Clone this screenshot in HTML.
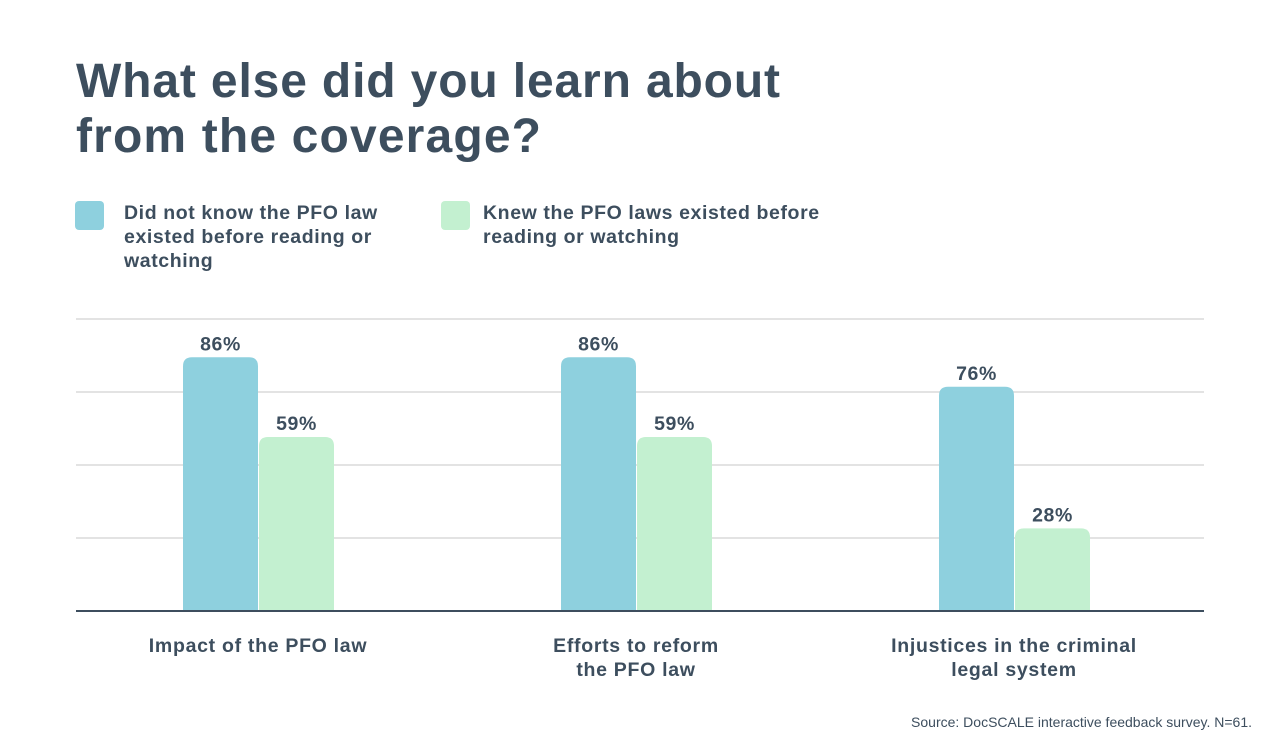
<!DOCTYPE html>
<html><head><meta charset="utf-8"><style>
body{margin:0;background:#fff;}
svg{display:block;font-family:"Liberation Sans",sans-serif;}
</style></head><body>
<svg width="1280" height="751" viewBox="0 0 1280 751">
<g fill="#3d4e5e" font-weight="bold">
<text x="76" y="97" font-size="48" textLength="704" lengthAdjust="spacing">What else did you learn about</text>
<text x="76" y="152" font-size="48" textLength="465" lengthAdjust="spacing">from the coverage?</text>
</g>
<g>
<rect x="75" y="201" width="29" height="29" rx="4" fill="#8ed0de"/>
<g font-size="19.5" font-weight="bold" fill="#3d4e5e" letter-spacing="0.6">
<text x="124" y="219">Did not know the PFO law</text>
<text x="124" y="243">existed before reading or</text>
<text x="124" y="267">watching</text>
</g>
<rect x="441" y="201" width="29" height="29" rx="4" fill="#c3f0d0"/>
<g font-size="19.5" font-weight="bold" fill="#3d4e5e" letter-spacing="0.6">
<text x="483" y="219">Knew the PFO laws existed before</text>
<text x="483" y="243">reading or watching</text>
</g>
</g>
<g id="grid"></g>
<g id="bars"></g>
<g id="labels"></g>
<line x1="76" x2="1204" y1="611" y2="611" stroke="#3d4e5e" stroke-width="2"/>
<text x="1252" y="727" text-anchor="end" font-size="14" fill="#3d4e5e">Source: DocSCALE interactive feedback survey. N=61.</text>
</svg>
<script>
const categories=[["Impact of the PFO law"],["Efforts to reform","the PFO law"],["Injustices in the criminal","legal system"]];
const didNotKnow=[86,86,76];
const knew=[59,59,28];
const gridTicks=[25,50,75,100];
const NS="http://www.w3.org/2000/svg";
const y0=611, yTop=316;
const y=v=>y0-(v/100)*(y0-yTop);
const gy=t=>y0-(t/100)*292;
const cx=i=>258+i*378;
const bw=75;
function mk(tag,attrs,parent){const e=document.createElementNS(NS,tag);for(const k in attrs)e.setAttribute(k,attrs[k]);parent.appendChild(e);return e;}
const grid=document.getElementById('grid'),bars=document.getElementById('bars'),labels=document.getElementById('labels');
gridTicks.forEach(t=>{const l=mk('line',{x1:76,x2:1204,y1:gy(t),y2:gy(t),stroke:'#e3e3e3','stroke-width':2},grid);

});
function bar(x,v,color,name){const top=y(v),r=9;
const p=mk('path',{d:`M${x},${y0}V${top+r}Q${x},${top} ${x+r},${top}H${x+bw-r}Q${x+bw},${top} ${x+bw},${top+r}V${y0}Z`,fill:color},bars);


const t=mk('text',{x:x+bw/2,y:top-7,'text-anchor':'middle','font-size':19.5,'font-weight':'bold',fill:'#3d4e5e','letter-spacing':0.6},labels);
t.textContent=v+'%';

}
categories.forEach((c,i)=>{
bar(cx(i)-bw,didNotKnow[i],'#8ed0de','bar-did-not-know-'+i);
bar(cx(i)+1,knew[i],'#c3f0d0','bar-knew-'+i);
const t=mk('text',{x:cx(i),'text-anchor':'middle','font-size':19.5,'font-weight':'bold',fill:'#3d4e5e','letter-spacing':0.7},labels);


c.forEach((line,j)=>{const s=mk('tspan',{x:cx(i),y:652+j*24},t);s.textContent=line;});
});
</script>
</body></html>
